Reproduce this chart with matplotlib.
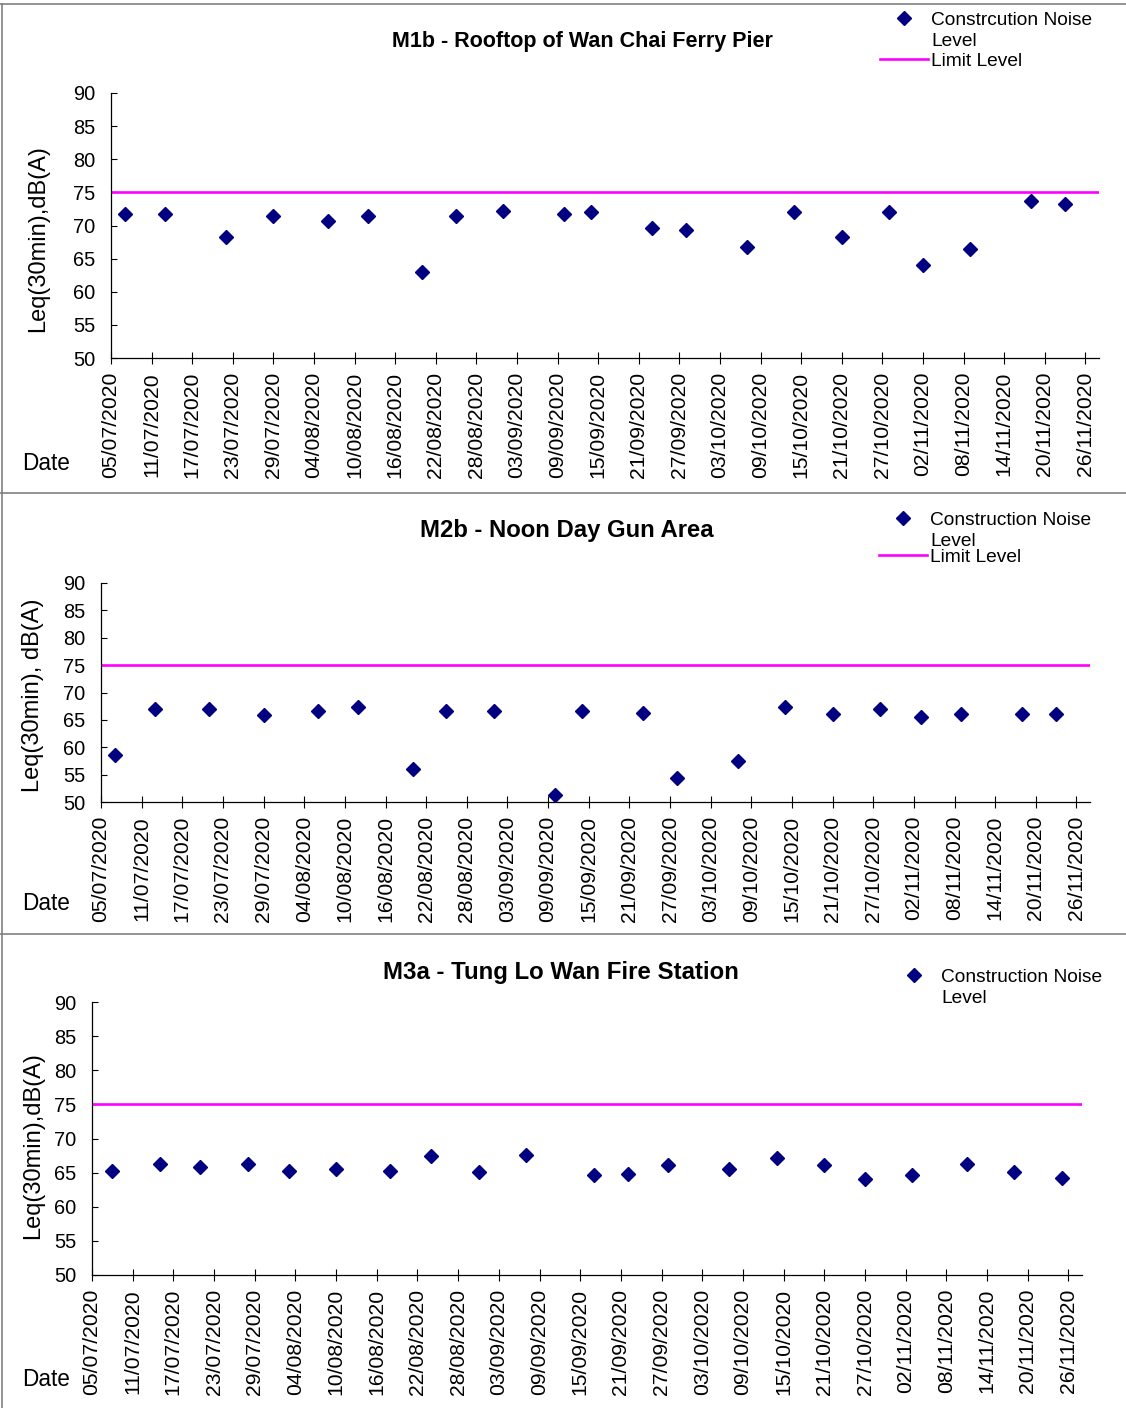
import matplotlib
matplotlib.use("Agg")
import matplotlib.pyplot as plt
import matplotlib.dates as mdates
from matplotlib.lines import Line2D
import pandas as pd

plt.rcParams['font.family'] = ['Liberation Sans', 'DejaVu Sans']

W, H = 1126, 1408

# ---- data ----
m1b_dates = ["2020-07-07", "2020-07-13", "2020-07-22", "2020-07-29", "2020-08-06", "2020-08-12",
             "2020-08-20", "2020-08-25", "2020-09-01", "2020-09-10", "2020-09-14", "2020-09-23",
             "2020-09-28", "2020-10-07", "2020-10-14", "2020-10-21", "2020-10-28", "2020-11-02",
             "2020-11-09", "2020-11-18", "2020-11-23"]
m1b_leq = [71.8, 71.8, 68.3, 71.4, 70.7, 71.4, 63.0, 71.5, 72.2, 71.8, 72.0, 69.6,
           69.3, 66.8, 72.1, 68.3, 72.0, 64.1, 66.4, 73.7, 73.3]

m2b_dates = ["2020-07-07", "2020-07-13", "2020-07-21", "2020-07-29", "2020-08-06", "2020-08-12",
             "2020-08-20", "2020-08-25", "2020-09-01", "2020-09-10", "2020-09-14", "2020-09-23",
             "2020-09-28", "2020-10-07", "2020-10-14", "2020-10-21", "2020-10-28", "2020-11-03",
             "2020-11-09", "2020-11-18", "2020-11-23"]
m2b_leq = [58.5, 66.9, 67.0, 65.8, 66.7, 67.3, 56.1, 66.7, 66.7, 51.3, 66.7, 66.3,
           54.4, 57.5, 67.3, 66.0, 67.0, 65.5, 66.1, 66.0, 66.0]

m3a_dates = ["2020-07-08", "2020-07-15", "2020-07-21", "2020-07-28", "2020-08-03", "2020-08-10",
             "2020-08-18", "2020-08-24", "2020-08-31", "2020-09-07", "2020-09-17", "2020-09-22",
             "2020-09-28", "2020-10-07", "2020-10-14", "2020-10-21", "2020-10-27", "2020-11-03",
             "2020-11-11", "2020-11-18", "2020-11-25"]
m3a_leq = [65.2, 66.3, 65.8, 66.2, 65.3, 65.6, 65.3, 67.4, 65.1, 67.6, 64.6, 64.8,
           66.1, 65.6, 67.1, 66.1, 64.0, 64.7, 66.2, 65.1, 64.2]

limit_level = 75
x_start, x_end = "2020-07-05", "2020-11-28"
tick_first, tick_last = "2020-07-05", "2020-11-26"
yticks = [50, 55, 60, 65, 70, 75, 80, 85, 90]

panels = [
    dict(title="M1b - Rooftop of Wan Chai Ferry Pier", dates=m1b_dates, leq=m1b_leq,
         ylabel="Leq(30min),dB(A)", noise_lbl="Constrcution Noise", show_limit=True,
         ax_px=(111, 93, 1099, 358), title_xy=(582, 41), title_fs=15.5,
         ylab_xy=(38, 239), date_xy=(46, 463), leg_x=880, leg_y=31, lim_y=61),
    dict(title="M2b - Noon Day Gun Area", dates=m2b_dates, leq=m2b_leq,
         ylabel="Leq(30min), dB(A)", noise_lbl="Construction Noise", show_limit=True,
         ax_px=(101, 583, 1090, 802), title_xy=(567, 530), title_fs=17.2,
         ylab_xy=(33, 695), date_xy=(46, 904), leg_x=879, leg_y=531, lim_y=557),
    dict(title="M3a - Tung Lo Wan Fire Station", dates=m3a_dates, leq=m3a_leq,
         ylabel="Leq(30min),dB(A)", noise_lbl="Construction Noise", show_limit=False,
         ax_px=(92, 1002, 1082, 1275), title_xy=(561, 973), title_fs=17.3,
         ylab_xy=(33, 1146), date_xy=(46, 1380), leg_x=890, leg_y=988, lim_y=None),
]

fig = plt.figure(figsize=(W / 100, H / 100), dpi=100)

# chart-area borders
for yb in [4, 493, 934]:
    fig.add_artist(Line2D([0, 1], [1 - yb / H, 1 - yb / H], transform=fig.transFigure,
                          color="#808080", lw=1.2))
fig.add_artist(Line2D([2 / W, 2 / W], [0, 1 - 4 / H], transform=fig.transFigure,
                      color="#808080", lw=1.2))

ticks = pd.date_range(tick_first, tick_last, freq="6D")

for p in panels:
    l, t, r, b = p["ax_px"]
    ax = fig.add_axes([l / W, 1 - b / H, (r - l) / W, (b - t) / H])
    d = pd.to_datetime(p["dates"])
    ax.plot(d, p["leq"], linestyle="none", marker="D", ms=7.0, color="#000080",
            markeredgecolor="#000080")
    ax.axhline(limit_level, color="#FF00FF", lw=1.9)

    ax.set_xlim(pd.Timestamp(x_start), pd.Timestamp(x_end))
    ax.set_ylim(50, 90)
    ax.set_yticks(yticks)
    ax.set_xticks(ticks)
    ax.xaxis.set_major_formatter(mdates.DateFormatter("%d/%m/%Y"))
    for lab in ax.get_xticklabels():
        lab.set_rotation(90)

    for s in ["top", "right"]:
        ax.spines[s].set_visible(False)
    for s in ["left", "bottom"]:
        ax.spines[s].set_linewidth(0.9)
    ax.tick_params(axis="x", direction="inout", length=8, width=0.8, pad=6.0, labelsize=15.2)
    ax.tick_params(axis="y", direction="in", length=4, width=0.8, pad=11, labelsize=14.4)

    ax.set_ylabel(p["ylabel"], fontsize=17, va="center")
    ax.yaxis.set_label_coords((p["ylab_xy"][0] - l) / (r - l), (b - p["ylab_xy"][1]) / (b - t))
    ax.set_xlabel("Date", fontsize=16.3, va="center")
    ax.xaxis.set_label_coords((p["date_xy"][0] - l) / (r - l), (b - p["date_xy"][1]) / (b - t))

    fig.text(p["title_xy"][0] / W, 1 - p["title_xy"][1] / H, p["title"], ha="center",
             va="center", fontsize=p["title_fs"], fontweight="bold")

    h_noise = Line2D([], [], linestyle="none", marker="D", ms=7.0, color="#000080")
    h_blank = Line2D([], [], linestyle="none")
    leg = ax.legend([h_noise, h_blank], [p["noise_lbl"], "Level"], loc="center left",
                    bbox_to_anchor=(p["leg_x"] / W, 1 - p["leg_y"] / H),
                    bbox_transform=fig.transFigure, frameon=False, fontsize=13.8,
                    borderpad=0, borderaxespad=0, handlelength=2.5, handletextpad=0.16,
                    labelspacing=0.2)
    if p["show_limit"]:
        ax.add_artist(leg)
        h_lim = Line2D([], [], color="#FF00FF", lw=1.9)
        ax.legend([h_lim], ["Limit Level"], loc="center left",
                  bbox_to_anchor=(p["leg_x"] / W, 1 - p["lim_y"] / H),
                  bbox_transform=fig.transFigure, frameon=False, fontsize=13.8,
                  borderpad=0, borderaxespad=0, handlelength=2.5, handletextpad=0.16)

fig.savefig("out.png", dpi=100)
